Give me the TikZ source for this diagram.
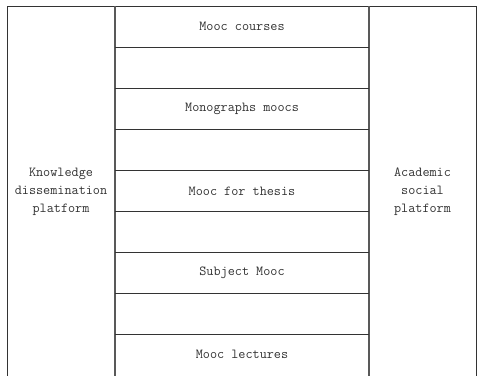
\documentclass[tikz,border=0pt]{standalone}
\usepackage{fontspec}
\begin{document}
\begin{tikzpicture}[x=1pt,y=-1pt,
    cell/.style={font=\ttfamily\fontsize{13.8}{18}\selectfont, text=black!80},
    rule/.style={draw=black!80, line width=0.9pt},
    divider/.style={draw=black!65, line width=1.8pt}]
        \useasboundingbox (0,0) rectangle (478,375);

        % Cornici esterne
        \coordinate (tl) at (7,6);
        \coordinate (tr) at (476,6);
        \coordinate (bl) at (7,380);
        \coordinate (br) at (476,380);
        \draw[rule] (bl) -- (tl) -- (tr) -- (br);

        % Colonna centrale
        \coordinate (ct) at (115,6);
        \coordinate (cb) at (115,380);
        \coordinate (dt) at (369,6);
        \coordinate (db) at (369,380);
        \draw[divider] (ct) -- (cb);
        \draw[divider] (dt) -- (db);

        % Righe orizzontali
        \foreach \y in {47,88,129,170,211,252,293,334}
            \draw[rule] (115,\y) -- (369,\y);

        % Testi delle righe
        \node[cell] (courses) at (242,26.5) {Mooc courses};
        \node[cell] (monographs) at (242,108.5) {Monographs moocs};
        \node[cell] (thesis) at (242,191) {Mooc for thesis};
        \node[cell] (subject) at (242,272.5) {Subject Mooc};
        \node[cell] (lectures) at (242,354.5) {Mooc lectures};

        % Piattaforme laterali
        \node[cell, align=center] (knowledge) at (61,192) {Knowledge\\dissemination\\platform};
        \node[cell, align=center] (academic) at (422.5,192) {Academic\\social\\platform};
    \end{tikzpicture}
\end{document}
